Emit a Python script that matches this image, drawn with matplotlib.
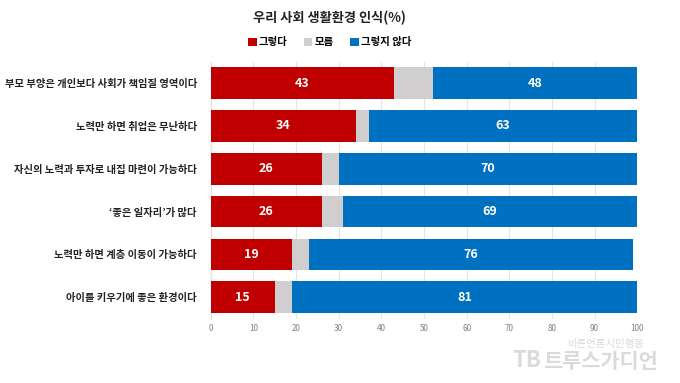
import matplotlib.pyplot as plt
from matplotlib.patches import Patch

plt.rcParams['font.family'] = ['Noto Sans CJK KR', 'DejaVu Sans']

categories = [
    "부모 부양은 개인보다 사회가 책임질 영역이다",
    "노력만 하면 취업은 무난하다",
    "자신의 노력과 투자로 내집 마련이 가능하다",
    "‘좋은 일자리’가 많다",
    "노력만 하면 계층 이동이 가능하다",
    "아이를 키우기에 좋은 환경이다",
]
yes = [43, 34, 26, 26, 19, 15]
unknown = [9, 3, 4, 5, 4, 4]
no = [48, 63, 70, 69, 76, 81]
series_names = ["그렇다", "모름", "그렇지 않다"]
colors = ["#C00000", "#D0CECE", "#0070C0"]
xticks = [0, 10, 20, 30, 40, 50, 60, 70, 80, 90, 100]

fig = plt.figure(figsize=(6.8, 3.83), dpi=100)
ax = fig.add_axes([0.310, 0.168, 0.627, 0.671])

ypos = list(range(len(categories)))
left_unknown = yes
left_no = [a + b for a, b in zip(yes, unknown)]

ax.barh(ypos, yes, height=0.74, color=colors[0], zorder=3)
ax.barh(ypos, unknown, left=left_unknown, height=0.74, color=colors[1], zorder=3)
ax.barh(ypos, no, left=left_no, height=0.74, color=colors[2], zorder=3)

# value labels on red and blue segments
for y, a, l, n in zip(ypos, yes, left_no, no):
    ax.text(a / 2, y, str(a), ha="center", va="center", color="white",
            fontsize=9, fontweight="bold", zorder=4)
    ax.text(l + n / 2, y, str(n), ha="center", va="center", color="white",
            fontsize=9, fontweight="bold", zorder=4)

ax.set_xlim(0, 100)
ax.set_ylim(len(categories) - 0.5, -0.5)
ax.set_xticks(xticks)
ax.set_xticklabels([str(t) for t in xticks], fontsize=5.8, color="#808080")
ax.set_yticks(ypos)
ax.set_yticklabels(categories, fontsize=7.4, fontweight="bold", color="#222222")
ax.tick_params(axis="y", length=0, pad=10)
ax.tick_params(axis="x", length=0, pad=4)
ax.grid(axis="x", color="#E4E4E4", linewidth=0.8, zorder=0)
for s in ["top", "right", "bottom"]:
    ax.spines[s].set_visible(False)
ax.spines["left"].set_color("#E4E4E4")
ax.spines["left"].set_linewidth(1.0)

fig.text(0.485, 0.953, "우리 사회 생활환경 인식(%)", ha="center", va="center",
         fontsize=9.5, fontweight="bold", color="#222222")
handles = [Patch(facecolor=c, edgecolor="none") for c in colors]
fig.legend(handles, series_names, loc="center", bbox_to_anchor=(0.485, 0.89),
           ncol=3, frameon=False, handlelength=0.8,
           handleheight=0.8, handletextpad=0.2, columnspacing=1.6,
           prop={"weight": "bold", "size": 7.5})

# watermark
fig.text(0.891, 0.102, "바른언론시민행동", ha="center", va="center",
         fontsize=7.5, color="#DADADA")
fig.text(0.883, 0.055, "트루스가디언", ha="center", va="center",
         fontsize=15, fontweight="bold", color="#DADADA")
fig.text(0.775, 0.06, "TB", ha="center", va="center",
         fontsize=16, fontweight="bold", color="#DADADA")

fig.savefig("out.png", dpi=100)
